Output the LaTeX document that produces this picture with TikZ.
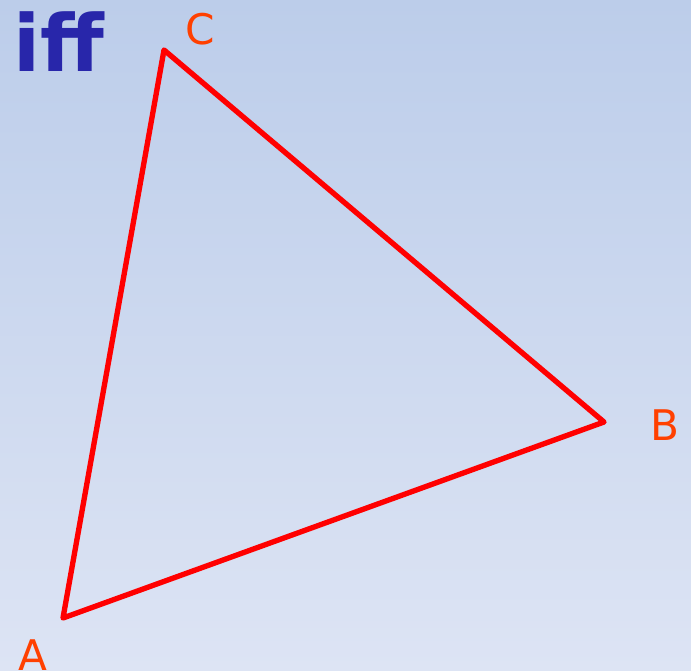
\documentclass[tikz,border=0pt]{standalone}
\usepackage{fontspec}
\setmainfont{DejaVu Sans}
\usepackage{xcolor}
\usetikzlibrary{positioning,calc}

\definecolor{bgtop}{RGB}{188,205,234}
\definecolor{bgbot}{RGB}{221,228,244}
\definecolor{iffblue}{RGB}{40,38,170}
\definecolor{lblred}{RGB}{255,64,0}

\begin{document}
\begin{tikzpicture}[x=0.025cm, y=-0.025cm,
    vlabel/.style={text=lblred, font=\fontsize{30}{30}\selectfont, inner sep=0pt},
    side/.style={draw=red, line width=3.8pt, line join=round}]

    \shade [top color=bgtop, bottom color=bgbot] (0,0) rectangle (691,671);
    \useasboundingbox (0,0) rectangle (691,671);

    \node [text=iffblue, font=\fontsize{56}{56}\selectfont\bfseries, inner sep=0pt] (iff) at (59,42) {iff};

    \coordinate (A) at (63,618);
    \coordinate (B) at (604,422);
    \coordinate (C) at (164,50);

    \node [vlabel] (la) at (33,655) {A};
    \node [vlabel] (lb) at (665,425) {B};
    \node [vlabel] (lc) at (200,29) {C};

    \draw [side] (A) -- (B) -- (C) -- cycle;
\end{tikzpicture}
\end{document}
